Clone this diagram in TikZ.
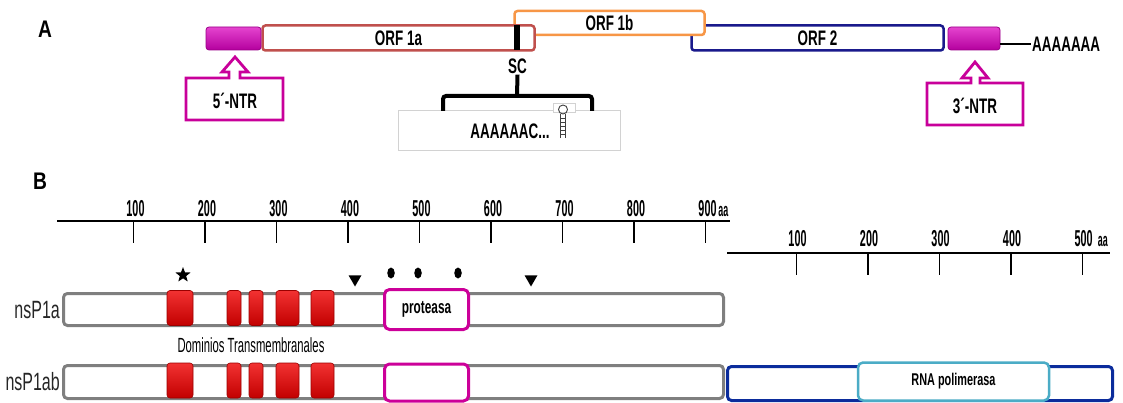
\documentclass[tikz,border=0pt]{standalone}
\usepackage{fontspec}
\setmainfont{Liberation Sans}[FakeStretch=0.64]
\newfontfamily\narrowfont{Liberation Sans}[FakeStretch=0.55]
\newfontfamily\numfont{Liberation Sans}[FakeStretch=0.47]
\newfontfamily\panelfont{Liberation Sans}[FakeStretch=0.8]
\usetikzlibrary{shapes.geometric}

\definecolor{orfa}{HTML}{C0504D}
\definecolor{orfb}{HTML}{F79646}
\definecolor{orftwo}{HTML}{1A1A8C}
\definecolor{ntrtop}{HTML}{E544CF}
\definecolor{ntrbot}{HTML}{B4009E}
\definecolor{ntrline}{HTML}{9A0088}
\definecolor{callout}{HTML}{C8009A}
\definecolor{barline}{HTML}{7F7F7F}
\definecolor{tmtop}{HTML}{F23232}
\definecolor{tmbot}{HTML}{C20000}
\definecolor{prot}{HTML}{CC0099}
\definecolor{polbar}{HTML}{0B2C9C}
\definecolor{polbox}{HTML}{4BACC6}
\definecolor{seqline}{HTML}{D2D2D2}

\begin{document}
\begin{tikzpicture}[x=1pt,y=-1pt,
  orf/.style={draw=#1, line width=2.5pt, fill=white, rounded corners=3pt,
    minimum height=25pt, inner sep=0pt, font=\bfseries\fontsize{21}{21}\selectfont},
  ntrbox/.style={draw=ntrline, line width=0.8pt, rounded corners=3pt,
    top color=ntrtop, bottom color=ntrbot, minimum height=23pt, inner sep=0pt},
  calloutline/.style={draw=callout, line width=2.8pt, fill=white, line join=miter},
  lbl/.style={font=\bfseries\fontsize{21}{21}\selectfont, inner sep=1pt},
  panel/.style={font=\panelfont\bfseries\fontsize{24}{24}\selectfont, inner sep=0pt},
  protbar/.style={draw=barline, line width=3pt, fill=white, rounded corners=4pt,
    inner sep=0pt},
  tm/.style={draw=tmbot!80!black, line width=0.6pt, top color=tmtop, bottom color=tmbot,
    rounded corners=3pt, minimum height=35pt, inner sep=0pt},
  domain/.style={draw=#1, line width=3pt, fill=white, rounded corners=5pt, inner sep=0pt},
  axisnum/.style={font=\numfont\bfseries\fontsize{23}{23}\selectfont, inner sep=0pt},
  aaunit/.style={font=\numfont\bfseries\fontsize{19}{19}\selectfont, inner sep=0pt},
  rowname/.style={font=\fontsize{25}{25}\selectfont, text=black!85, anchor=east, inner sep=0pt},
  ruler/.style={line width=2pt},
  tick/.style={line width=1.4pt},
  mark star/.style={star, star points=5, star point ratio=2.4, fill=black,
    minimum size=16pt, inner sep=0pt},
  mark tri/.style={regular polygon, regular polygon sides=3, shape border rotate=180,
    fill=black, minimum size=15pt, inner sep=0pt},
  mark dot/.style={ellipse, fill=black, minimum width=7.5pt, minimum height=11pt, inner sep=0pt}
]
\useasboundingbox (0,0) rectangle (1123,403);

% ---------------- Panel A: genome organisation ----------------
\node[panel] (labA) at (45,29) {A};

\node[orf=orftwo, minimum width=252pt] (orf2) at (817.5,38) {ORF 2};
\node[orf=orfb, minimum width=190pt, minimum height=24pt] (orf1b) at (609.5,23) {ORF 1b};
\node[orf=orfa, minimum width=272pt] (orf1a) at (398.5,38) {ORF 1a};
\node[fill=black, minimum width=6pt, minimum height=25pt, inner sep=0pt] (sc) at (516.5,38) {};

\node[ntrbox, minimum width=55pt] (ntr5) at (233.5,38.5) {};
\node[ntrbox, minimum width=52pt] (ntr3) at (974,38.5) {};
\node[lbl, anchor=west] (polyA) at (1031,44) {AAAAAAA};
\draw[line width=2pt] (ntr3.east |- polyA.west) -- (polyA.west);

% 5' callout
\draw[calloutline] (186,120) -- (186,78) -- (229,78) -- (229,72) -- (222,72) -- (235,57)
  -- (248,72) -- (240,72) -- (240,78) -- (283,78) -- (283,120) -- cycle;
\node[lbl] (t5) at (235,101) {5´-NTR};
% 3' callout
\draw[calloutline] (927,125) -- (927,83) -- (971,83) -- (971,78) -- (962,78) -- (975,62)
  -- (988,78) -- (980,78) -- (980,83) -- (1023,83) -- (1023,125) -- cycle;
\node[lbl] (t3) at (975,106) {3´-NTR};

% slippery sequence
\node[lbl] (sclbl) at (517.5,66) {SC};
\node[draw=seqline, line width=0.8pt, fill=white, minimum width=222pt, minimum height=40pt,
  inner sep=0pt] (seq) at (509,130) {};
\node[lbl] (seqtxt) at (510,131) {AAAAAAC...};
\draw[line width=4pt, rounded corners=3pt] (443,111) -- (443,96) -- (592,96) -- (592,111);
\draw[line width=4pt] (sclbl.south) -- (517,96);
% stem-loop icon
\draw[seqline, line width=0.6pt, fill=white] (553,103) rectangle (575,112);
\draw[black!75, line width=0.9pt] (563,109.5) circle (4.5);
\draw[black!75, line width=0.9pt] (560.5,114) -- (560.5,138) (565.5,114) -- (565.5,138);
\foreach \yy in {118,122,...,136} \draw[black!75, line width=0.7pt] (560.5,\yy) -- (565.5,\yy);

% ---------------- Panel B: polyproteins ----------------
\node[panel] (labB) at (40,181) {B};

% ruler for nsP1a / nsP1ab
\coordinate (r1s) at (57,221);
\coordinate (r1e) at (730,221);
\draw[ruler] (r1s) -- (r1e);
\foreach \n in {1,...,9} {
  \coordinate (ta\n) at ({62+71.5*\n},221);
  \draw[tick] (ta\n) -- ++(0,22);
  \node[axisnum, anchor=south] (na\n) at ([xshift=2pt,yshift=4pt]ta\n) {\n00};
}
\node[aaunit, anchor=base west] (aa1) at ([xshift=1.5pt]na9.base east) {aa};

% ruler for the polymerase part
\coordinate (r2s) at (727,253);
\coordinate (r2e) at (1110,253);
\draw[ruler] (r2s) -- (r2e);
\foreach \n in {1,...,5} {
  \coordinate (tb\n) at ({725+71.5*\n},253);
  \draw[tick] (tb\n) -- ++(0,22);
  \node[axisnum, anchor=south] (nb\n) at ([xshift=1pt,yshift=6pt]tb\n) {\n00};
}
\node[aaunit, anchor=base west] (aa2) at ([xshift=5pt]nb5.base east) {aa};

% bars
\node[protbar, minimum width=660pt, minimum height=32pt] (p1a) at (393.5,309.5) {};
\node[protbar, draw=polbar, minimum width=385pt, minimum height=34pt] (pol) at (920,383.5) {};
\node[protbar, minimum width=660pt, minimum height=33pt] (p1ab) at (393.5,382) {};

\node[rowname] (n1a) at (60,310) {nsP1a};
\node[rowname] (n1ab) at (60,382) {nsP1ab};

% transmembrane domains
\foreach \xa/\xb [count=\i] in {167/193,227/241,249/263,276/299,311/334} {
  \node[tm, minimum width={\xb-\xa}] (tma\i) at ({(\xa+\xb)/2},308) {};
  \node[tm, minimum width={\xb-\xa}] (tmb\i) at ({(\xa+\xb)/2},380.5) {};
}
\node[font=\narrowfont\fontsize{20.5}{20.5}\selectfont, inner sep=0pt] (tmlbl) at (251,345) {Dominios Transmembranales};

% protease and polymerase domains
\node[domain=prot, minimum width=84pt, minimum height=40pt,
  font=\bfseries\fontsize{18.5}{18.5}\selectfont] (pro1) at (426.5,309.5) {proteasa};
\node[domain=prot, minimum width=84pt, minimum height=37pt] (pro2) at (426.5,382.5) {};
\node[domain=polbox, line width=2.5pt, minimum width=191pt, minimum height=38pt,
  font=\bfseries\fontsize{17}{17}\selectfont] (rdrp) at (953.5,381.5) {RNA polimerasa};

% site markers
\node[mark star] (st) at (183,275) {};
\node[mark tri] (tr1) at (355,279) {};
\node[mark tri] (tr2) at (531,279) {};
\node[mark dot] (d1) at (391,273) {};
\node[mark dot] (d2) at (418,273) {};
\node[mark dot] (d3) at (458,273) {};
\end{tikzpicture}
\end{document}
